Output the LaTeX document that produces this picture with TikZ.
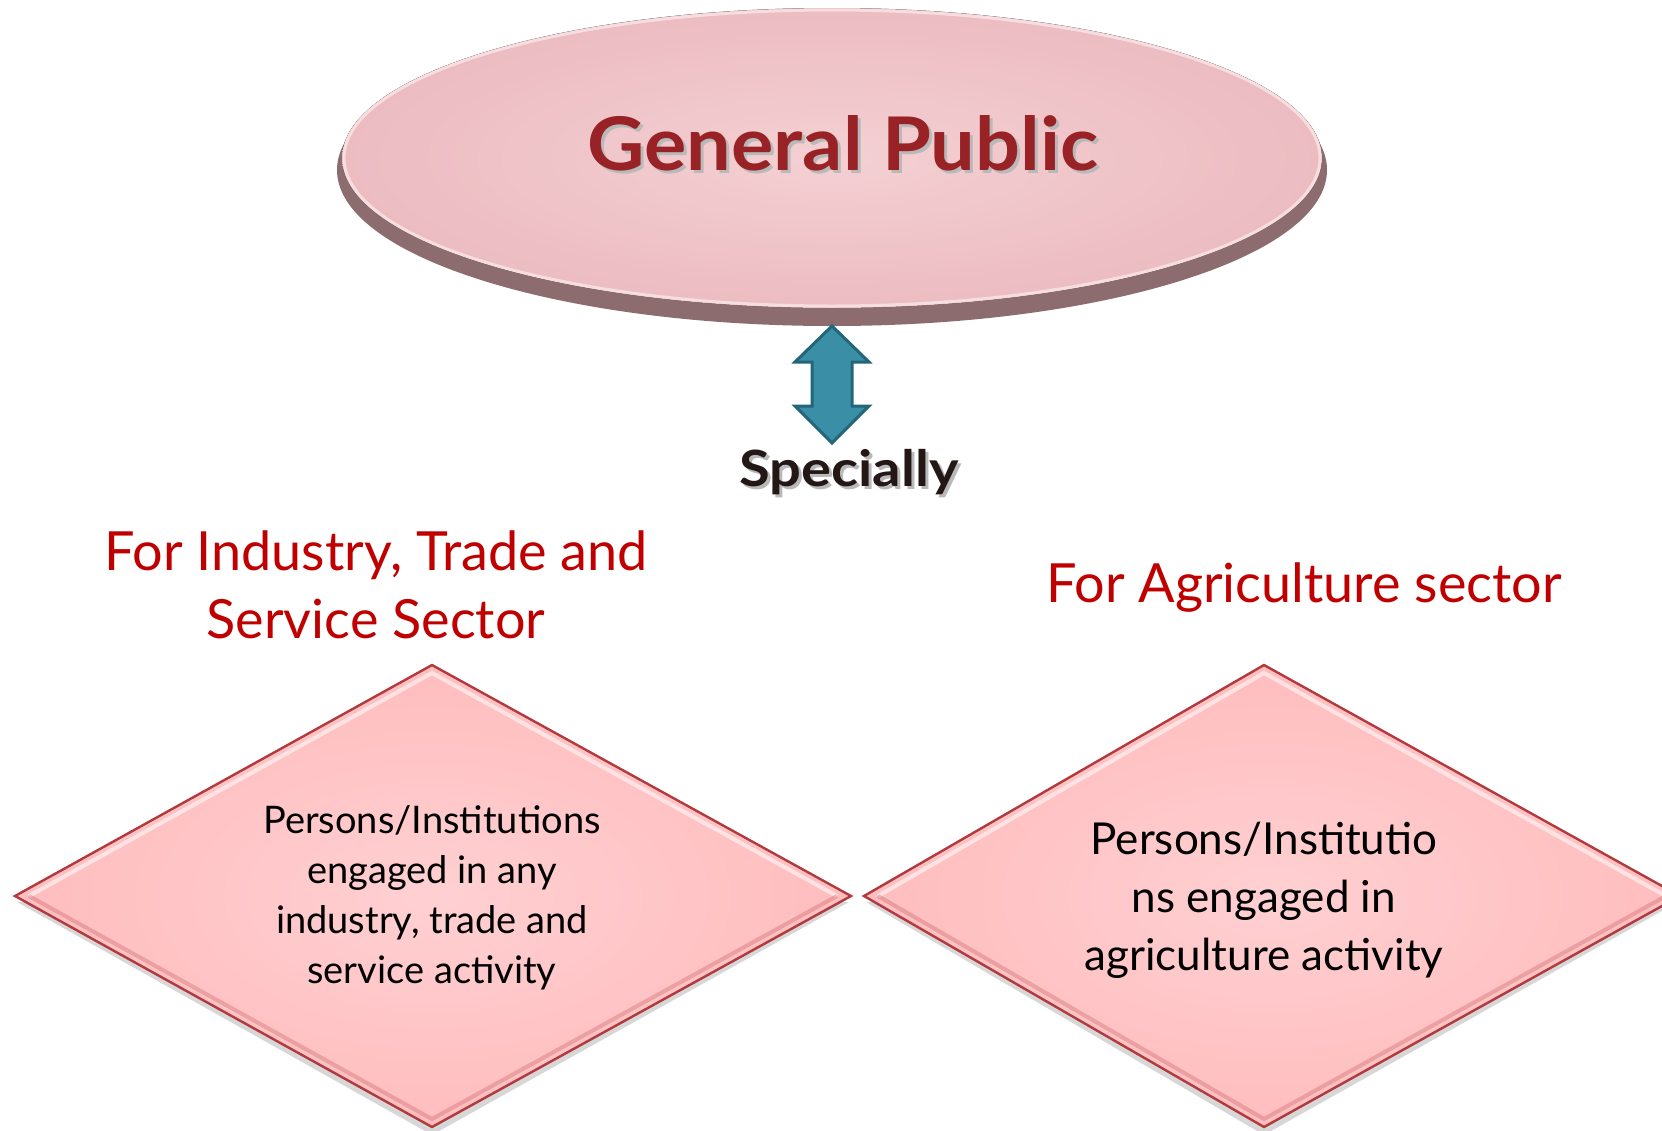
\documentclass[tikz,border=0pt]{standalone}
\usepackage{fontspec}
\setmainfont{Lato}
\usetikzlibrary{shapes.geometric,calc}
\definecolor{pinkfill}{HTML}{ECBCC1}
\definecolor{pinklight}{HTML}{F4D0D3}
\definecolor{rim}{HTML}{8C6C6E}
\definecolor{gpred}{HTML}{982226}
\definecolor{headred}{HTML}{C00000}
\definecolor{arrowteal}{HTML}{3A8FA6}
\definecolor{arrowedge}{HTML}{22667A}
\definecolor{diafill}{HTML}{FFBDBE}
\definecolor{diacenter}{HTML}{FFD0D2}
\definecolor{diaedge}{HTML}{B23A3E}
\definecolor{darktxt}{HTML}{231815}
\tikzset{
  diabox/.style={draw=diaedge, line width=1.2pt, line join=miter, inner color=diacenter, outer color=diafill},
  diashadow/.style={fill=gray!70, opacity=0.45},
  bevellight/.style={draw=white, opacity=0.55, line width=2pt},
  beveldark/.style={draw=diaedge, opacity=0.25, line width=2pt},
  diatext/.style={align=center, text=black, font=\fontsize{19}{25}\selectfont},
  headtext/.style={align=center, text=headred, font=\fontsize{27}{34}\selectfont},
}
\begin{document}
\begin{tikzpicture}[x=0.5pt,y=-0.5pt]
\useasboundingbox (0,0) rectangle (1662,1131);
\clip (0,0) rectangle (1662,1131);
% ellipse
\fill[rim] (832,170) ellipse [x radius=247.5pt, y radius=78pt];
\fill[inner color=pinklight, outer color=pinkfill] (832,158) ellipse [x radius=245pt, y radius=75pt];
\draw[white, opacity=0.5, line width=1.5pt] (832,158) ellipse [x radius=244pt, y radius=74pt];
\node (gp) at (846,146) {\textcolor{gray!55}{\fontsize{37}{40}\selectfont\bfseries\scalebox{1.07}[1]{General Public}}};
\node (gpt) at (843,143) {\textcolor{gpred}{\fontsize{37}{40}\selectfont\bfseries\scalebox{1.07}[1]{General Public}}};
% double arrow
\filldraw[fill=arrowteal, draw=arrowedge, line width=1.5pt, line join=miter]
  (832,326) -- (869,362) -- (852,362) -- (852,406) -- (869,406) -- (832,443)
  -- (795,406) -- (812,406) -- (812,362) -- (795,362) -- cycle;
\node (sp0) at (852,475) {\textcolor{gray!55}{\fontsize{25}{28}\selectfont\bfseries\scalebox{1.12}[1]{Specially}}};
\node (sp) at (849,472) {\textcolor{darktxt}{\fontsize{25}{28}\selectfont\bfseries\scalebox{1.12}[1]{Specially}}};
% headings
\node[headtext] (h1) at (376,585) {For Industry, Trade and\\Service Sector};
\node[headtext] (h2) at (1304,588) {For Agriculture sector};
% diamond 1
\coordinate (d1l) at (15,896); \coordinate (d1t) at (432,665);
\coordinate (d1r) at (851,896); \coordinate (d1b) at (432,1127);
\fill[diashadow] ($(d1l)+(2,6)$) -- ($(d1b)+(0,8)$) -- ($(d1r)+(-2,6)$) -- cycle;
\path[diabox] (d1l) -- (d1t) -- (d1r) -- (d1b) -- cycle;
\draw[bevellight] ($(d1l)+(14,0)$) -- ($(d1t)+(0,8)$) -- ($(d1r)+(-14,0)$);
\draw[beveldark] ($(d1l)+(14,0)$) -- ($(d1b)+(0,-8)$) -- ($(d1r)+(-14,0)$);
\node[diatext] (t1) at (432,898) {Persons/Institutions\\engaged in any\\industry, trade and\\service activity};
% diamond 2
\coordinate (d2l) at (864,896); \coordinate (d2t) at (1264,665);
\coordinate (d2r) at (1680,896); \coordinate (d2b) at (1264,1127);
\fill[diashadow] ($(d2l)+(2,6)$) -- ($(d2b)+(0,8)$) -- ($(d2r)+(-2,6)$) -- cycle;
\path[diabox] (d2l) -- (d2t) -- (d2r) -- (d2b) -- cycle;
\draw[bevellight] ($(d2l)+(14,0)$) -- ($(d2t)+(0,8)$) -- ($(d2r)+(-14,0)$);
\draw[beveldark] ($(d2l)+(14,0)$) -- ($(d2b)+(0,-8)$) -- ($(d2r)+(-14,0)$);
\node[diatext, font=\fontsize{22}{29}\selectfont] (t2) at (1264,900) {Persons/Institutio\\ns engaged in\\agriculture activity};
\end{tikzpicture}
\end{document}
